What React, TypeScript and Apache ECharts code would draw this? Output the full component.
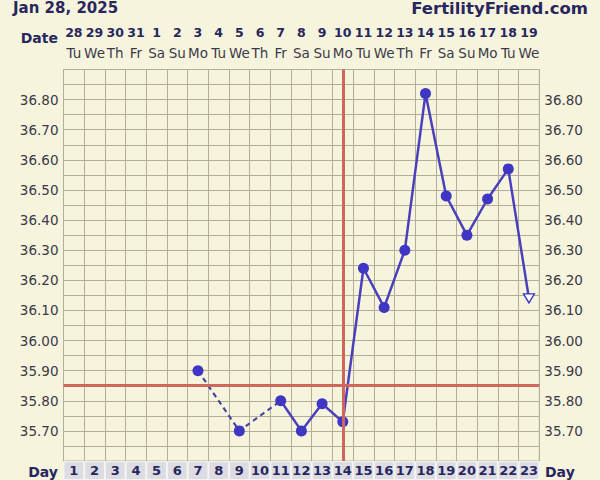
import React, { useEffect, useRef } from "react";
import * as echarts from "echarts";

const dayNumbers = ["1","2","3","4","5","6","7","8","9","10","11","12","13","14","15","16","17","18","19","20","21","22","23"];
const dateNumbers = ["28","29","30","31","1","2","3","4","5","6","7","8","9","10","11","12","13","14","15","16","17","18","19"];
const weekdays = ["Tu","We","Th","Fr","Sa","Su","Mo","Tu","We","Th","Fr","Sa","Su","Mo","Tu","We","Th","Fr","Sa","Su","Mo","Tu","We"];
const temps: (number | null)[] = [null,null,null,null,null,null,35.90,null,35.70,null,35.80,35.70,35.79,35.73,36.24,36.11,36.30,36.82,36.48,36.35,36.47,36.57,36.14];
const dashedDays = [7, 9, 11];
const openDay = 23;
const ovulationDay = "14";
const coverline = 35.855;
const yMin = 35.6;
const yMax = 36.9;
const yStep = 0.05;

const NAVY = "#27275e";
const BG = "#f7f4dd";
const GRID = "#b4ae98";
const BLUE = "#3f37c4";
const RED = "#cf675d";
const FONT = "DejaVu Sans";

export default function App() {
  const ref = useRef<HTMLDivElement>(null);
  useEffect(() => {
    if (!ref.current) return;
    const chart = echarts.init(ref.current, null, { renderer: "svg" });

    const solidData = temps.map((t, i) => {
      if (t === null) return null;
      if (i + 1 === openDay) {
        return {
          value: t,
          symbol: "triangle",
          symbolRotate: 180,
          symbolSize: [11, 9],
          itemStyle: { color: "#ffffff", borderColor: BLUE, borderWidth: 1.3 },
        };
      }
      return t;
    });
    const dashedData = temps.map((t, i) => (dashedDays.includes(i + 1) ? t : null));

    const yLabel = (v: number) => {
      const r = Math.round(v * 100);
      return r % 10 === 0 ? (r / 100).toFixed(2) : "";
    };
    const yLabelStyle = {
      formatter: yLabel,
      fontFamily: FONT,
      fontSize: 13.5,
      color: "#3a3a48",
      margin: 5,
      showMinLabel: false,
      showMaxLabel: false,
    };

    chart.setOption({
      animation: false,
      backgroundColor: BG,
      textStyle: { fontFamily: FONT },
      grid: {
        left: 63.5,
        right: 60.7,
        top: 69.5,
        bottom: 17.1,
        show: true,
        backgroundColor: BG,
        borderColor: GRID,
        borderWidth: 1,
      },
      xAxis: [
        {
          type: "category",
          data: dayNumbers,
          position: "bottom",
          boundaryGap: true,
          axisLine: { show: false },
          axisTick: { show: false },
          splitLine: { show: true, lineStyle: { color: GRID, width: 1 } },
          axisLabel: {
            interval: 0,
            margin: 1,
            fontFamily: FONT,
            fontWeight: "bold",
            fontSize: 13,
            color: NAVY,
            backgroundColor: "#dcdce2",
            borderColor: "#f4f4f4",
            borderWidth: 1,
            width: 18.7,
            height: 17,
            lineHeight: 17,
            align: "center",
            verticalAlign: "top",
          },
        },
        {
          type: "category",
          data: dayNumbers,
          position: "top",
          boundaryGap: true,
          axisLine: { show: false },
          axisTick: { show: false },
          splitLine: { show: false },
          axisLabel: {
            interval: 0,
            margin: 7,
            formatter: (_v: string, i: number) => `{d|${dateNumbers[i]}}\n{w|${weekdays[i]}}`,
            rich: {
              d: { fontFamily: FONT, fontWeight: "bold", fontSize: 12.5, color: NAVY, lineHeight: 20 },
              w: { fontFamily: FONT, fontSize: 13.5, color: "#3a3a4a", lineHeight: 20 },
            },
          },
        },
      ],
      yAxis: [
        {
          type: "value",
          min: yMin,
          max: yMax,
          interval: yStep,
          position: "left",
          axisLine: { show: false },
          axisTick: { show: false },
          splitLine: { show: true, lineStyle: { color: GRID, width: 1 } },
          axisLabel: yLabelStyle,
        },
        {
          type: "value",
          min: yMin,
          max: yMax,
          interval: yStep,
          position: "right",
          axisLine: { show: false },
          axisTick: { show: false },
          splitLine: { show: false },
          axisLabel: yLabelStyle,
        },
      ],
      graphic: [
        { type: "text", left: 13, top: 0, style: { text: "Jan 28, 2025", font: `bold 15px ${FONT}`, fill: NAVY } },
        { type: "text", right: 12, top: 0, style: { text: "FertilityFriend.com", font: `bold 16.5px ${FONT}`, fill: NAVY } },
        { type: "text", x: 58, y: 38, style: { text: "Date", font: `bold 14px ${FONT}`, fill: NAVY, align: "right", verticalAlign: "middle" } },
        { type: "text", x: 58, y: 472, style: { text: "Day", font: `bold 14px ${FONT}`, fill: NAVY, align: "right", verticalAlign: "middle" } },
        { type: "text", x: 545, y: 472, style: { text: "Day", font: `bold 14px ${FONT}`, fill: NAVY, align: "left", verticalAlign: "middle" } },
      ],
      series: [
        {
          type: "line",
          data: [],
          z: 1,
          markLine: {
            silent: true,
            symbol: "none",
            label: { show: false },
            lineStyle: { color: RED, width: 3, type: "solid" },
            data: [{ xAxis: ovulationDay }, { yAxis: coverline }],
          },
        },
        {
          type: "line",
          data: dashedData,
          connectNulls: true,
          symbol: "none",
          z: 3,
          lineStyle: { color: "#4a46a0", width: 2.2, type: [5, 4] },
        },
        {
          type: "line",
          data: solidData,
          connectNulls: false,
          showSymbol: true,
          showAllSymbol: true,
          symbol: "circle",
          symbolSize: 11,
          z: 4,
          itemStyle: { color: BLUE },
          lineStyle: { color: "#4a40bc", width: 2.5 },
        },
      ],
    });
    return () => chart.dispose();
  }, []);
  return <div ref={ref} style={{ position: "absolute", left: 0, top: 0, width: 600, height: 480 }} />;
}
